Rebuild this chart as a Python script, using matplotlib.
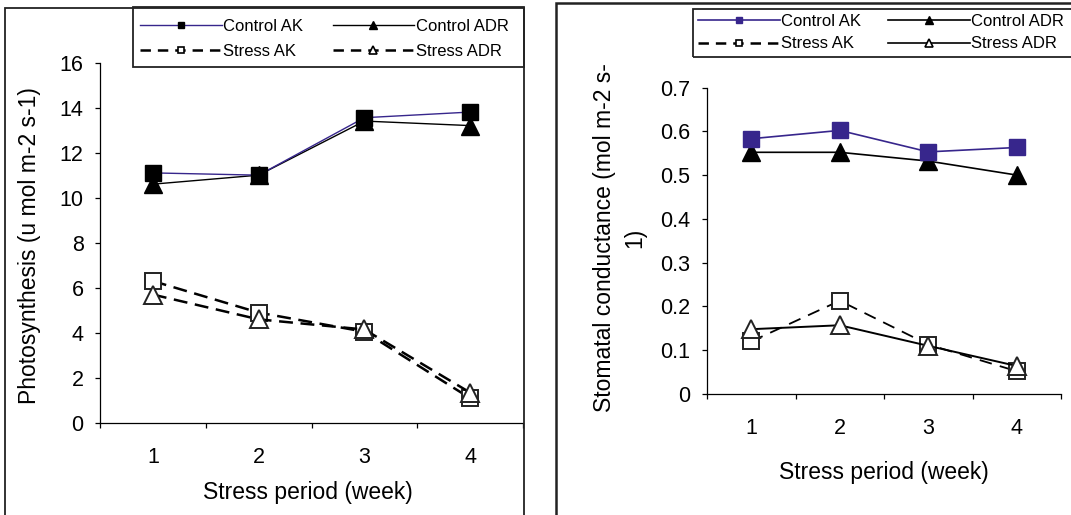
import matplotlib
matplotlib.use("Agg")
import matplotlib.pyplot as plt
from matplotlib.lines import Line2D
from matplotlib.patches import Rectangle
import numpy as np

plt.rcParams["font.family"] = ["Liberation Sans", "DejaVu Sans"]
plt.rcParams["lines.scale_dashes"] = False

# Stress period categories (weeks)
weeks = ["1", "2", "3", "4"]

# Photosynthesis (u mol m-2 s-1)
photo_control_ak = [11.1, 11.0, 13.55, 13.8]
photo_control_adr = [10.6, 11.0, 13.4, 13.2]
photo_stress_ak = [6.3, 4.9, 4.05, 1.1]
photo_stress_adr = [5.7, 4.6, 4.15, 1.35]

# Stomatal conductance (mol m-2 s-1)
cond_control_ak = [0.583, 0.602, 0.553, 0.563]
cond_control_adr = [0.552, 0.552, 0.532, 0.500]
cond_stress_ak = [0.120, 0.213, 0.113, 0.052]
cond_stress_adr = [0.148, 0.157, 0.110, 0.064]

series_names = ["Control AK", "Control ADR", "Stress AK", "Stress ADR"]

W, H = 1071, 515
fig = plt.figure(figsize=(W / 100, H / 100), dpi=100)
fig.patch.set_facecolor("white")


def px_box(x0, y0, x1, y1):
    """Pixel box (top-left origin) -> figure fraction [left, bottom, width, height]."""
    return [x0 / W, 1 - y1 / H, (x1 - x0) / W, (y1 - y0) / H]


def add_frame(x0, y0, x1, y1, lw, color="#222222"):
    l, b, w, h = px_box(x0, y0, x1, y1)
    rect = Rectangle((l, b), w, h, transform=fig.transFigure, fill=False,
                     edgecolor=color, linewidth=lw, clip_on=False, zorder=20)
    fig.add_artist(rect)


PURPLE = "#37268c"
TICK_FS = 15.5
LABEL_FS = 16.5
LEG_FS = 12

x = np.arange(len(weeks)) + 0.5


def style_axes(ax, ymax, ystep, fmt):
    ax.set_xlim(0, len(weeks))
    ax.set_ylim(0, ymax)
    for side in ["top", "right"]:
        ax.spines[side].set_visible(False)
    for side in ["left", "bottom"]:
        ax.spines[side].set_linewidth(0.9)
    ax.set_xticks(np.arange(len(weeks) + 1))
    ax.set_xticklabels([])
    ax.set_xticks(x, minor=True)
    ax.set_xticklabels(weeks, minor=True)
    ax.tick_params(axis="x", which="major", direction="out", length=3.8, width=0.9)
    ax.tick_params(axis="x", which="minor", length=0, pad=17, labelsize=TICK_FS)
    ax.tick_params(axis="y", direction="out", length=3.8, width=0.9, pad=8,
                   labelsize=TICK_FS)
    yt = np.arange(0, ymax + ystep / 2, ystep)
    ax.set_yticks(yt)
    ax.set_yticklabels([fmt(v) for v in yt])


# ---- Left panel: photosynthesis ----
add_frame(4.5, 8, 523.5, 560, lw=1.3)
ax1 = fig.add_axes(px_box(100, 62.5, 523, 423))
style_axes(ax1, 16, 2, lambda v: f"{v:.0f}")

dash_l = (10, 5.5)
ax1.plot(x, photo_stress_ak, color="black", lw=1.8, dashes=dash_l, marker="s",
         ms=11, mfc="white", mec="#222222", mew=1.4, zorder=3)
ax1.plot(x, photo_stress_adr, color="black", lw=1.8, dashes=dash_l, marker="^",
         ms=12.5, mfc="white", mec="#222222", mew=1.4, zorder=3)
ax1.plot(x, photo_control_adr, color="black", lw=1.0, marker="^", ms=12.5,
         mfc="black", mec="black", zorder=4)
ax1.plot(x, photo_control_ak, color=PURPLE, lw=1.0, marker="s", ms=11,
         mfc="black", mec="black", zorder=5)

ax1.set_xlabel("Stress period (week)", fontsize=LABEL_FS)
ax1.xaxis.set_label_coords(0.4905, -0.194)
ax1.xaxis.label.set_va("center")
ax1.set_ylabel("Photosynthesis (u mol m-2 s-1)", fontsize=LABEL_FS, va="center")
ax1.yaxis.set_label_coords(-0.1655, 0.491)

# legend box and entries
add_frame(133, 7.5, 523.5, 67.5, lw=1.3)
h_left = [
    Line2D([], [], color=PURPLE, lw=1.0, marker="s", ms=5, mfc="black", mec="black"),
    Line2D([], [], color="black", lw=1.8, dashes=(7.5, 5), marker="s", ms=5,
           mfc="white", mec="black", mew=1.2),
    Line2D([], [], color="black", lw=1.0, marker="^", ms=6, mfc="black", mec="black"),
    Line2D([], [], color="black", lw=1.8, dashes=(7.5, 5), marker="^", ms=6,
           mfc="white", mec="black", mew=1.2),
]
lab_order = [series_names[0], series_names[2], series_names[1], series_names[3]]
fig.legend(h_left, lab_order, ncol=2, loc="upper left", frameon=False,
           bbox_to_anchor=(140 / W, 1 - 19 / H), bbox_transform=fig.transFigure,
           borderpad=0, borderaxespad=0, fontsize=LEG_FS, handlelength=4.9,
           handletextpad=0.1, columnspacing=1.75, labelspacing=0.6, numpoints=1)

# ---- Right panel: stomatal conductance ----
add_frame(556, 3.3, 1200, 560, lw=1.8)
ax2 = fig.add_axes(px_box(707, 87.5, 1061, 394))
style_axes(ax2, 0.7, 0.1, lambda v: "0" if abs(v) < 1e-9 else f"{v:.1f}")

ax2.plot(x, cond_control_ak, color=PURPLE, lw=1.2, marker="s", ms=11,
         mfc=PURPLE, mec=PURPLE, zorder=5)
ax2.plot(x, cond_control_adr, color="black", lw=1.2, marker="^", ms=12.5,
         mfc="black", mec="black", zorder=4)
ax2.plot(x, cond_stress_ak, color="black", lw=1.3, dashes=(9, 6), marker="s",
         ms=11, mfc="white", mec="#222222", mew=1.4, zorder=3)
ax2.plot(x, cond_stress_adr, color="black", lw=1.4, marker="^", ms=12.5,
         mfc="white", mec="#222222", mew=1.4, zorder=3)

ax2.set_xlabel("Stress period (week)", fontsize=LABEL_FS)
ax2.xaxis.set_label_coords(0.5, -0.2545)
ax2.xaxis.label.set_va("center")
ax2.set_ylabel("Stomatal conductance (mol m-2 s-\n1)", fontsize=LABEL_FS,
               va="center", linespacing=1.4)
ax2.yaxis.set_label_coords(-0.2458, 0.509)

add_frame(693, 9.3, 1200, 57, lw=1.3)
h_right = [
    Line2D([], [], color=PURPLE, lw=1.2, marker="s", ms=5, mfc=PURPLE, mec=PURPLE),
    Line2D([], [], color="black", lw=1.8, dashes=(7.5, 5), marker="s", ms=5,
           mfc="white", mec="black", mew=1.2),
    Line2D([], [], color="black", lw=1.2, marker="^", ms=6, mfc="black", mec="black"),
    Line2D([], [], color="black", lw=1.2, marker="^", ms=6, mfc="white",
           mec="black", mew=1.2),
]
fig.legend(h_right, lab_order, ncol=2, loc="upper left", frameon=False,
           bbox_to_anchor=(698 / W, 1 - 13.5 / H), bbox_transform=fig.transFigure,
           borderpad=0, borderaxespad=0, fontsize=LEG_FS, handlelength=4.9,
           handletextpad=0.1, columnspacing=1.6, labelspacing=0.48, numpoints=1)

fig.savefig("out.png", dpi=100)
